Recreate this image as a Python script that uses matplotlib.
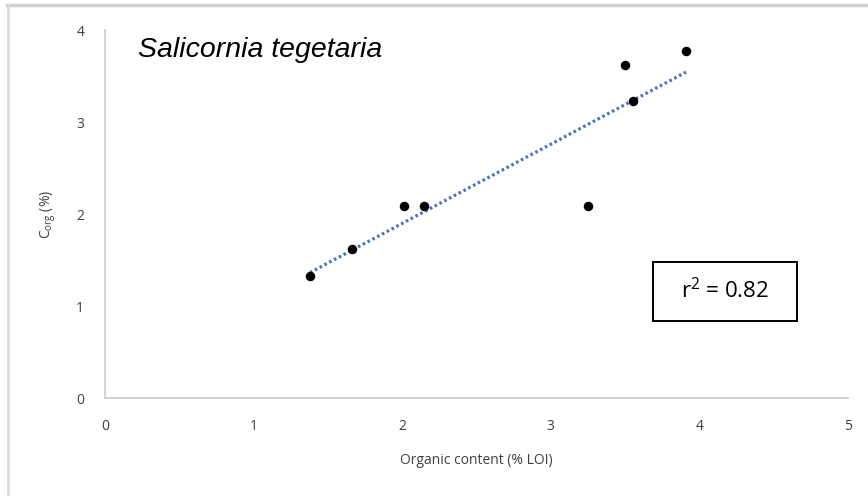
import numpy as np
import matplotlib.pyplot as plt
from matplotlib.lines import Line2D
from matplotlib.patches import Rectangle

# organic content (% LOI) vs C_org (%)
loi = [1.38, 1.66, 2.01, 2.15, 3.25, 3.50, 3.55, 3.91]
corg = [1.33, 1.62, 2.09, 2.09, 2.09, 3.62, 3.23, 3.77]
x_ticks = [0, 1, 2, 3, 4, 5]
y_ticks = [0, 1, 2, 3, 4]

fig = plt.figure(figsize=(8.68, 4.96), dpi=100)
ax = fig.add_axes([105 / 868, 1 - 398 / 496, 743 / 868, 368 / 496])

# outer frame lines (top and left edges)
fig.add_artist(Line2D([7 / 868, 1], [1 - 5 / 496, 1 - 5 / 496], color="#d0d0d0", lw=2.5, transform=fig.transFigure))
fig.add_artist(Line2D([8 / 868, 8 / 868], [0, 1 - 5 / 496], color="#d9d9d9", lw=2.0, transform=fig.transFigure))

# trend line
m, b = np.polyfit(loi, corg, 1)
xs = np.array([min(loi), max(loi)])
ax.plot(xs, m * xs + b, color="#4472c4", lw=2.3, ls=(0, (0.8, 0.9)), zorder=2)

ax.scatter(loi, corg, s=34, color="black", zorder=3)

ax.set_xlim(0, 5)
ax.set_ylim(0, 4)
ax.set_xticks(x_ticks)
ax.set_yticks(y_ticks)
ax.tick_params(axis="x", length=0, labelsize=10, labelcolor="#404040", pad=15)
ax.tick_params(axis="y", length=0, labelsize=10, labelcolor="#404040", pad=15)
for s in ["top", "right"]:
    ax.spines[s].set_visible(False)
for s in ["left", "bottom"]:
    ax.spines[s].set_color("#d0d0d0")
    ax.spines[s].set_linewidth(1.3)
plt.setp(ax.get_xticklabels(), family="Open Sans")
plt.setp(ax.get_yticklabels(), family="Open Sans")

ax.set_xlabel("Organic content (% LOI)", family="Open Sans", fontsize=10, color="#404040", labelpad=14)
ax.set_ylabel(r"C$_\mathregular{org}$ (%)", family="Open Sans", fontsize=10, color="#404040", labelpad=13)

ax.text(0.22, 3.71, "Salicornia tegetaria", family="Liberation Sans", style="italic", fontsize=20.5, color="black")

# r² box
ax.add_patch(Rectangle((548 / 743, 77 / 368), 144 / 743, 59 / 368, transform=ax.transAxes,
                       fc="white", ec="black", lw=1.4, zorder=4))
ax.text(620 / 743, 107 / 368, r"r$^\mathregular{2}$ = 0.82", family="Open Sans", fontsize=16, color="black",
        ha="center", va="center", transform=ax.transAxes, zorder=5)

fig.savefig("out.png", dpi=100)
